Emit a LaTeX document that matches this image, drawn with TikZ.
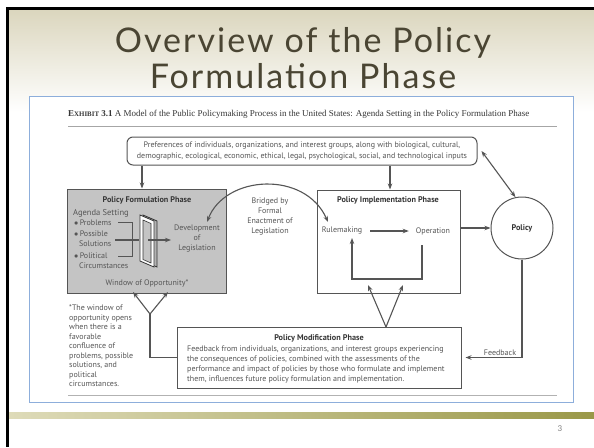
\documentclass[tikz,border=0pt]{standalone}
\usepackage{fontspec}
\newfontfamily\titlefont[LetterSpace=6]{Lato}
\newfontfamily\numfont{Lato}
\newfontfamily\diafont{PT Sans}
\newfontfamily\capfont{Liberation Serif}
\usetikzlibrary{arrows.meta}

\definecolor{bgtop}{HTML}{DAD5BC}
\definecolor{titlecol}{HTML}{4A4533}
\definecolor{ink}{HTML}{555555}
\definecolor{inkdark}{HTML}{363636}
\definecolor{boxgray}{HTML}{C4C4C4}
\definecolor{picframe}{HTML}{8DAEDB}
\definecolor{barleft}{HTML}{DEDBB9}
\definecolor{barmid}{HTML}{CDCB70}
\definecolor{barright}{HTML}{9A9848}

\tikzset{
  line/.style={draw=ink, line width=1.1pt},
  arr/.style={line, -{Stealth[length=6pt,width=4.5pt]}},
  biarr/.style={line, {Stealth[length=6pt,width=4.5pt]}-{Stealth[length=6pt,width=4.5pt]}},
  txt/.style={text=ink, font=\diafont\fontsize{8}{10}\selectfont, inner sep=0pt},
  head/.style={text=inkdark, font=\diafont\bfseries\fontsize{8.2}{10}\selectfont, inner sep=0pt},
  phasebox/.style={draw=ink, line width=1pt},
}

\begin{document}
\begin{tikzpicture}[x=1pt,y=-1pt]
\useasboundingbox (0,0) rectangle (594,447);
\fill[white] (0,0) rectangle (594,447);

% slide background and frame
\shade[top color=bgtop, bottom color=white] (6,7) rectangle (594,112);
\fill[black] (6,7) rectangle (9,447);
\fill[black] (6,7) rectangle (594,9.5);

% title
\node[anchor=base, text=titlecol, font=\titlefont\fontsize{34}{40}\selectfont, inner sep=0pt] (t1) at (303,52) {Overview of the Policy};
\node[anchor=base, text=titlecol, font=\titlefont\fontsize{34}{40}\selectfont, inner sep=0pt] (t2) at (303,88) {Formulation Phase};

% footer bar and page number
\shade[left color=barleft, middle color=barmid, right color=barright] (9,412) rectangle (594,418);
\node[text=gray, font=\numfont\fontsize{8}{9}\selectfont, inner sep=0pt] (pnum) at (560,429) {3};

% exhibit frame
\draw[picframe, line width=0.8pt, fill=white] (29,96) rectangle (573,402);
\node[anchor=base west, inner sep=0pt, text=inkdark, font=\capfont\fontsize{9}{10}\selectfont] (cap) at (68,116)
  {\textbf{E{\fontsize{6.9}{8}\selectfont XHIBIT} 3.1} A Model of the Public Policymaking Process in the United States: Agenda Setting in the Policy Formulation Phase};
\draw[gray!70, line width=0.8pt] (68,126) -- (557,126);
\draw[gray!60, line width=0.8pt] (68,395) -- (557,395);

% boxes
\node[phasebox, rounded corners=6pt, minimum width=350pt, minimum height=28pt, align=center, txt, font=\diafont\fontsize{8}{11.5}\selectfont] (prefs) at (302,151)
  {Preferences of individuals, organizations, and interest groups, along with biological, cultural,\\
   demographic, ecological, economic, ethical, legal, psychological, social, and technological inputs};
\node[phasebox, fill=boxgray, minimum width=159pt, minimum height=104pt] (form) at (146.5,241) {};
\node[phasebox, minimum width=143pt, minimum height=103pt] (impl) at (388.5,241.5) {};
\node[phasebox, circle, minimum size=62pt, head] (policy) at (522,228) {Policy};
\node[phasebox, minimum width=284pt, minimum height=61pt] (modif) at (319,357.5) {};

% formulation phase contents
\node[head] (formtitle) at (147,200) {Policy Formulation Phase};
\node[txt, anchor=west, font=\diafont\fontsize{8.5}{10}\selectfont] (agenda) at (73,213) {Agenda Setting};
\node[txt, anchor=west] (prob) at (74,223) {$\bullet$\,Problems};
\node[txt, anchor=north west, align=left] (sol) at (74,231) {$\bullet$\,Possible\\[-0.6pt]\hspace*{5pt}Solutions};
\node[txt, anchor=north west, align=left] (polc) at (74,253) {$\bullet$\,Political\\[-0.6pt]\hspace*{5pt}Circumstances};
\node[txt] (window) at (147,283) {Window of Opportunity*};
\node[txt, align=center] (dev) at (197,239) {Development\\of\\Legislation};

\coordinate (brA) at (118,222);
\coordinate (brB) at (132,256);
\coordinate (brC) at (118,256);
\draw[line, line width=0.8pt] (brA) -| (brB) -- (brC);
\coordinate (solA) at (115,240);
\coordinate (solB) at (139,240);
\draw[line] (solA) -- (solB);

% window frame
\coordinate (wf1) at (140,215);
\coordinate (wf2) at (154,221);
\coordinate (wf3) at (154,267);
\coordinate (wf4) at (140,261);
\filldraw[draw=inkdark, fill=black!30, line width=0.8pt] ([xshift=3pt]wf1) -- ([xshift=3pt]wf2) -- ([xshift=3pt]wf3) -- ([xshift=3pt]wf4) -- cycle;
\filldraw[draw=inkdark, fill=white, line width=0.8pt] (wf1) -- (wf2) -- (wf3) -- (wf4) -- cycle;
\filldraw[draw=inkdark, fill=boxgray, line width=0.6pt] (143,220) -- (151,223.5) -- (151,263) -- (143,259.5) -- cycle;
\coordinate (passA) at (148,240);
\draw[arr] (passA) -- ([xshift=-3pt]dev.west |- passA);

% bridge text and curved arrow
\node[txt, align=center] (bridge) at (270,216.5) {Bridged by\\Formal\\Enactment of\\Legislation};
\coordinate (devtip) at (207,222);
\coordinate (ruletip) at (328,222);
\draw[biarr] (devtip) .. controls (225,175) and (305,170) .. (ruletip);

% implementation phase contents
\node[head] (impltitle) at (388,200) {Policy Implementation Phase};
\node[txt] (rule) at (342,231) {Rulemaking};
\node[txt] (oper) at (433,231) {Operation};
\draw[arr] ([xshift=8pt]rule.east) -- ([xshift=-7pt]oper.west);
\coordinate (lpA) at (422,245);
\coordinate (lpB) at (352,279);
\coordinate (lpC) at (352,238);
\draw[arr] (lpA) |- (lpB) -- (lpC);

% modification phase contents
\node[head] (modtitle) at (319,338) {Policy Modification Phase};
\node[txt, anchor=north west, align=left] (modtext) at (187,345.5)
  {Feedback from individuals, organizations, and interest groups experiencing\\
   the consequences of policies, combined with the assessments of the\\
   performance and impact of policies by those who formulate and implement\\
   them, influences future policy formulation and implementation.};

% connectors between phases
\coordinate (colL) at (142,0);
\coordinate (colR) at (390,0);
\draw[arr] (colL |- prefs.south) -- (colL |- form.north);
\draw[arr] (colR |- prefs.south) -- (colR |- impl.north);
\draw[biarr] ([xshift=4pt]prefs.east) -- (policy.102);
\draw[arr] (impl.east |- policy.west) -- (policy.west);
\draw[arr] (policy.south) |- ([xshift=4pt]modif.east);
\node[txt] (fb) at (500,353) {Feedback};

\coordinate (vR) at (386,327);
\coordinate (vRa) at (368,285);
\coordinate (vRb) at (403,285);
\draw[arr] (vR) -- (vRa);
\draw[arr] (vR) -- (vRb);

\coordinate (vL) at (150,314);
\coordinate (vLa) at (133,292);
\coordinate (vLb) at (168,292);
\draw[arr] (vL) -- (vLa);
\draw[arr] (vL) -- (vLb);
\draw[line] (vL) |- (modif.west);

% footnote
\node[txt, anchor=north west, align=left, font=\diafont\fontsize{8}{9.5}\selectfont] (note) at (69,305)
  {*The window of\\opportunity opens\\when there is a\\favorable\\confluence of\\problems, possible\\solutions, and\\political\\circumstances.};
\end{tikzpicture}
\end{document}
